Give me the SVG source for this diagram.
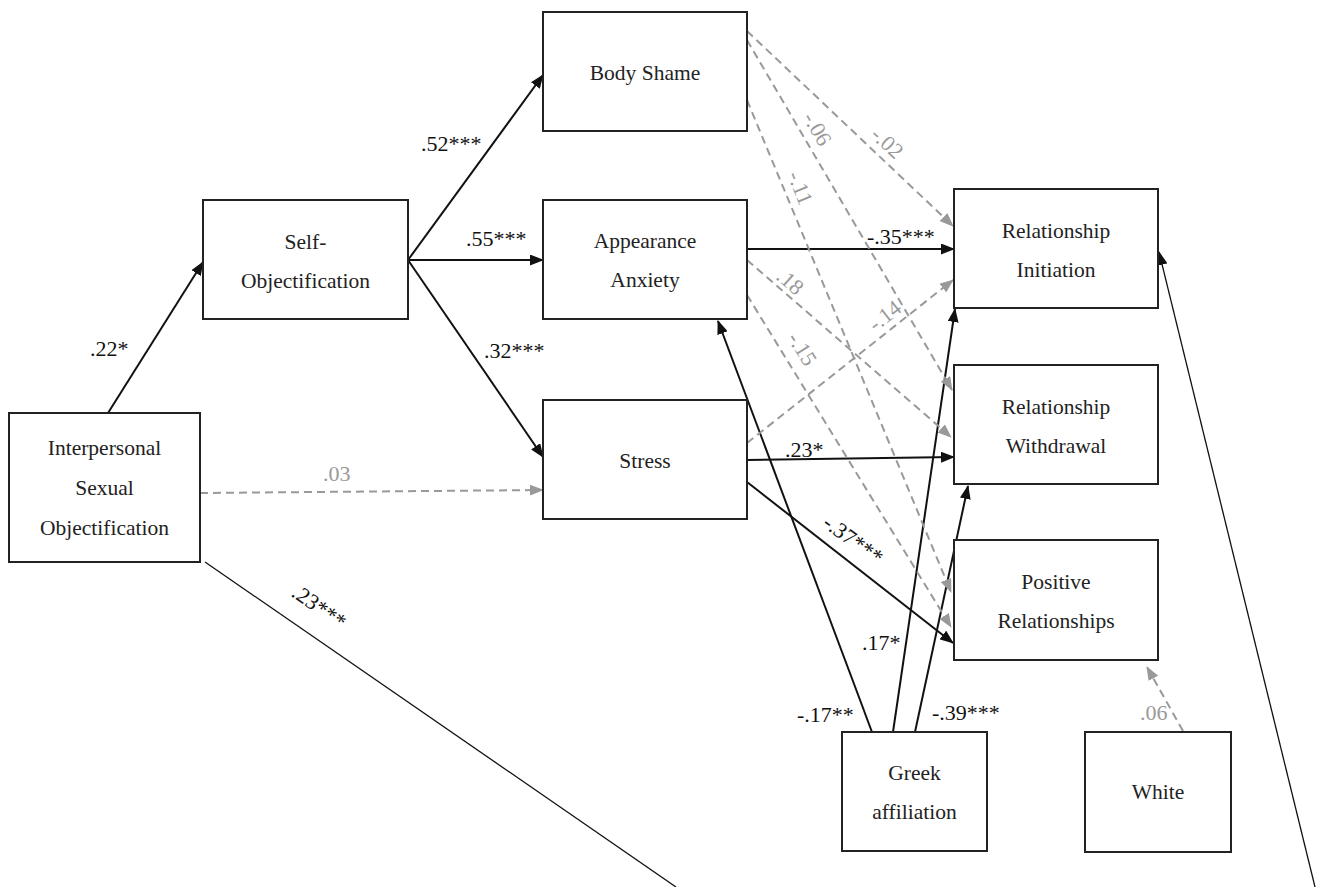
<svg xmlns="http://www.w3.org/2000/svg" width="1322" height="887" viewBox="0 0 1322 887" font-family="Liberation Serif, Times New Roman, Tinos, serif">
<defs>
<marker id="ab" markerUnits="userSpaceOnUse" markerWidth="14" markerHeight="11" refX="13" refY="5.5" orient="auto"><path d="M0,0 L14,5.5 L0,11 z" fill="#111"/></marker>
<marker id="ag" markerUnits="userSpaceOnUse" markerWidth="14" markerHeight="11" refX="13" refY="5.5" orient="auto"><path d="M0,0 L14,5.5 L0,11 z" fill="#999"/></marker>
<style>
.box{fill:#fff;stroke:#222;stroke-width:2}
.nt{font-size:21.5px;fill:#222;text-anchor:middle}
.s{stroke:#111;stroke-width:2;fill:none;marker-end:url(#ab)}
.t{stroke:#111;stroke-width:1.3;fill:none}
.d{stroke:#999;stroke-width:2;fill:none;stroke-dasharray:8 5;marker-end:url(#ag)}
.lb{font-size:22px;fill:#111}
.lg{font-size:22px;fill:#999}
</style>
</defs>
<rect width="1322" height="887" fill="#fff"/>
<g id="connectors" font-family="Liberation Serif, serif">
<line class="s" x1="108" y1="413" x2="203" y2="262"/>
<line class="s" x1="408" y1="260" x2="543" y2="75"/>
<line class="s" x1="408" y1="260" x2="543" y2="260"/>
<line class="s" x1="408" y1="260" x2="543" y2="457"/>
<line class="s" x1="747" y1="249" x2="954" y2="249"/>
<line class="s" x1="747" y1="460" x2="954" y2="457"/>
<line class="s" x1="747" y1="482" x2="953" y2="643"/>
<line class="s" x1="872" y1="732" x2="718" y2="321"/>
<line class="s" x1="893" y1="732" x2="955" y2="309"/>
<line class="s" x1="915" y1="732" x2="968" y2="486"/>
<line class="t" x1="205" y1="562" x2="676" y2="887"/>
<line class="t" x1="1315" y1="887" x2="1159" y2="252" marker-end="url(#ab)"/>
<line class="d" x1="200" y1="493" x2="543" y2="490"/>
<line class="d" x1="747" y1="31" x2="953" y2="226"/>
<line class="d" x1="747" y1="40" x2="952" y2="390"/>
<line class="d" x1="747" y1="100" x2="951" y2="592"/>
<line class="d" x1="747" y1="260" x2="951" y2="437"/>
<line class="d" x1="747" y1="295" x2="951" y2="627"/>
<line class="d" x1="747" y1="443" x2="953" y2="280"/>
<line class="d" x1="1183" y1="731" x2="1147" y2="667"/>
<text class="lb" x="90" y="356">.22*</text>
<text class="lb" x="421" y="151">.52***</text>
<text class="lb" x="466" y="246">.55***</text>
<text class="lb" x="484" y="358">.32***</text>
<text class="lb" x="867" y="244">-.35***</text>
<text class="lb" x="785" y="457">.23*</text>
<text class="lb" text-anchor="middle" transform="translate(853,540) rotate(36)" y="7">-.37***</text>
<text class="lb" x="797" y="722">-.17**</text>
<text class="lb" x="862" y="650">.17*</text>
<text class="lb" x="932" y="720">-.39***</text>
<text class="lb" text-anchor="middle" transform="translate(319,607) rotate(35)" y="7">.23***</text>
<text class="lg" x="323" y="481">.03</text>
<text class="lg" text-anchor="middle" transform="translate(887,143) rotate(43)" y="7">-.02</text>
<text class="lg" text-anchor="middle" transform="translate(817,129) rotate(60)" y="7">-.06</text>
<text class="lg" text-anchor="middle" transform="translate(800,188) rotate(68)" y="7">-.11</text>
<text class="lg" text-anchor="middle" transform="translate(790,282) rotate(41)" y="7">.18</text>
<text class="lg" text-anchor="middle" transform="translate(802,349) rotate(58)" y="7">-.15</text>
<text class="lg" text-anchor="middle" transform="translate(885,316) rotate(-38)" y="7">-.14</text>
<text class="lg" x="1140" y="720">.06</text>
</g>
<g id="iso"><rect class="box" x="9" y="413" width="191" height="149"/><text class="nt" x="104.5" y="455">Interpersonal</text><text class="nt" x="104.5" y="495">Sexual</text><text class="nt" x="104.5" y="535">Objectification</text></g>
<g id="selfobj"><rect class="box" x="203" y="200" width="205" height="119"/><text class="nt" x="305.5" y="249">Self-</text><text class="nt" x="305.5" y="288">Objectification</text></g>
<g id="bodyshame"><rect class="box" x="543" y="12" width="204" height="119"/><text class="nt" x="645" y="80">Body Shame</text></g>
<g id="appanx"><rect class="box" x="543" y="200" width="204" height="119"/><text class="nt" x="645" y="248">Appearance</text><text class="nt" x="645" y="287">Anxiety</text></g>
<g id="stress"><rect class="box" x="543" y="400" width="204" height="119"/><text class="nt" x="645" y="468">Stress</text></g>
<g id="relinit"><rect class="box" x="954" y="189" width="204" height="119"/><text class="nt" x="1056" y="238">Relationship</text><text class="nt" x="1056" y="277">Initiation</text></g>
<g id="relwith"><rect class="box" x="954" y="365" width="204" height="119"/><text class="nt" x="1056" y="414">Relationship</text><text class="nt" x="1056" y="453">Withdrawal</text></g>
<g id="posrel"><rect class="box" x="954" y="540" width="204" height="120"/><text class="nt" x="1056" y="589">Positive</text><text class="nt" x="1056" y="628">Relationships</text></g>
<g id="greek"><rect class="box" x="842" y="732" width="145" height="119"/><text class="nt" x="914.5" y="780">Greek</text><text class="nt" x="914.5" y="819">affiliation</text></g>
<g id="white"><rect class="box" x="1085" y="732" width="146" height="120"/><text class="nt" x="1158" y="799">White</text></g>
</svg>
